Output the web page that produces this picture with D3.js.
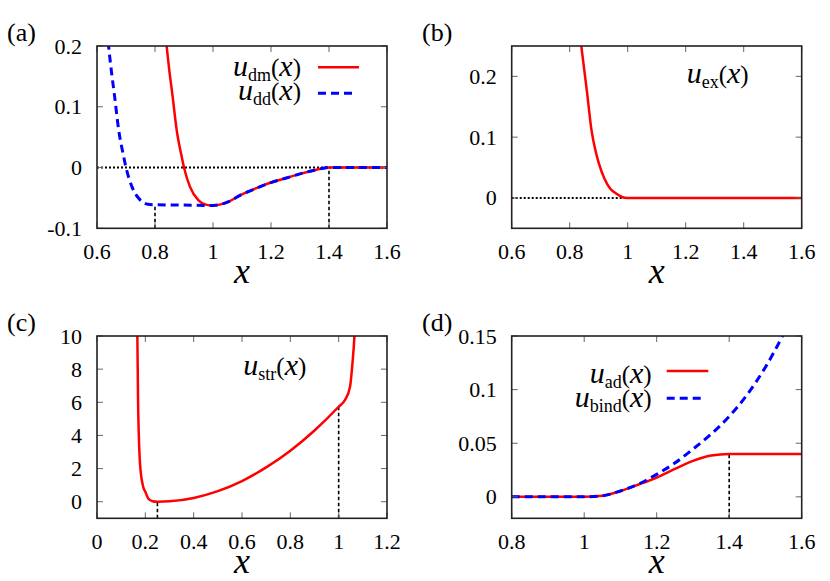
<!DOCTYPE html>
<html><head><meta charset="utf-8">
<script src="https://cdn.jsdelivr.net/npm/d3@7"></script>
<style>html,body{margin:0;padding:0;background:#fff;}</style></head>
<body><svg id="chart" width="830" height="581"></svg>
<script>
// ---------- data ----------
// panel (a)
const udmX = [0.83,0.84,0.85,0.86,0.875,0.89,0.90,0.92,0.95,0.975,1.0,1.05,1.10,1.15,1.20,1.25,1.30,1.35,1.40,1.5,1.6];
const udmY = [0.25,0.2,0.157,0.12,0.061,0.0225,0.0,-0.031,-0.054,-0.061,-0.0625,-0.057,-0.044,-0.034,-0.0247,-0.0176,-0.0104,-0.0045,0,0,0];
const uddX = [0.63,0.64,0.65,0.66,0.675,0.69,0.70,0.72,0.75,0.775,0.8,0.9,1.0,1.05,1.10,1.15,1.20,1.25,1.30,1.35,1.40,1.5,1.6];
const uddY = [0.25,0.2,0.157,0.12,0.061,0.0225,0.0,-0.031,-0.054,-0.0605,-0.0612,-0.0618,-0.0625,-0.057,-0.044,-0.034,-0.0247,-0.0176,-0.0104,-0.0045,0,0,0];
// panel (b)
const uexX = [0.83,0.84,0.86,0.875,0.89,0.90,0.92,0.94,0.96,0.98,1.0,1.6];
const uexY = [0.29,0.25,0.173,0.112,0.0756,0.0578,0.0316,0.0151,0.0073,0.0015,0,0];
// panel (c)
const ustrX = [0.165,0.167,0.1697,0.178,0.19,0.2,0.212,0.23,0.25,0.3,0.4,0.5,0.6,0.7,0.8,0.9,1.0,1.026,1.047,1.057,1.065,1.068];
const ustrY = [11,10,6.3,2.3,0.97,0.6,0.2,0.03,0,0.025,0.23,0.64,1.25,2.07,3.08,4.3,5.73,6.14,6.94,8.35,9.96,11];
// panel (d)
const uadX = [0.8,0.9,1.0,1.05,1.1,1.15,1.2,1.25,1.3,1.35,1.4,1.5,1.6];
const uadY = [0,0,0,0.001,0.0055,0.0115,0.018,0.026,0.0335,0.0385,0.04,0.04,0.04];
const ubindX = [0.8,0.9,1.0,1.05,1.1,1.15,1.2,1.25,1.3,1.35,1.4,1.45,1.5,1.55,1.6];
const ubindY = [0,0,0,0.001,0.0055,0.012,0.021,0.0315,0.0445,0.0585,0.075,0.0955,0.121,0.152,0.188];

// axis ticks
const xTicksA = [0.6,0.8,1.0,1.2,1.4,1.6], xLabA = ["0.6","0.8","1","1.2","1.4","1.6"];
const yTicksA = [-0.1,0,0.1,0.2], yLabA = ["-0.1","0","0.1","0.2"];
const yTicksB = [0,0.1,0.2], yLabB = ["0","0.1","0.2"];
const xTicksC = [0,0.2,0.4,0.6,0.8,1.0,1.2], xLabC = ["0","0.2","0.4","0.6","0.8","1","1.2"];
const yTicksC = [0,2,4,6,8,10], yLabC = ["0","2","4","6","8","10"];
const xTicksD = [0.8,1.0,1.2,1.4,1.6], xLabD = ["0.8","1","1.2","1.4","1.6"];
const yTicksD = [0,0.05,0.1,0.15], yLabD = ["0","0.05","0.1","0.15"];

// reference markers (vertical drop lines)
const dropA = [[0.8,-0.0612],[1.4,0]];
const dropC = [[0.25,0],[1.0,5.73]];
const dropD = [[1.4,0.04]];

// ---------- drawing ----------
const FONT = "'Liberation Serif'";
const svg = d3.select("#chart");
const W = 290, H = 182.3;
const TICK_FS = 22, RED = "#ff0000", BLUE = "#0000ff";

function zip(xs, ys){ return xs.map((x,i)=>[x,ys[i]]); }
function txt(sel, fs){ return sel.append("text").attr("font-size",fs).style("font-family",FONT); }

function panel(cfg){
  const g = svg.append("g").attr("transform",`translate(${cfg.left},${cfg.top})`);
  const x = d3.scaleLinear().domain(cfg.xd).range([0,W]);
  const y = d3.scaleLinear().domain(cfg.yd).range([H,0]);
  const cid = "clip"+cfg.id;
  g.append("clipPath").attr("id",cid).append("rect").attr("width",W).attr("height",H);
  const plot = g.append("g").attr("clip-path",`url(#${cid})`);

  // ticks (inward, mirrored)
  const tk = 6;
  const tg = g.append("g").attr("stroke","#666").attr("stroke-width",1);
  cfg.xt.forEach(v=>{
    tg.append("line").attr("x1",x(v)).attr("x2",x(v)).attr("y1",H).attr("y2",H-tk);
    tg.append("line").attr("x1",x(v)).attr("x2",x(v)).attr("y1",0).attr("y2",tk);
  });
  cfg.yt.forEach(v=>{
    tg.append("line").attr("x1",0).attr("x2",tk).attr("y1",y(v)).attr("y2",y(v));
    tg.append("line").attr("x1",W).attr("x2",W-tk).attr("y1",y(v)).attr("y2",y(v));
  });
  // tick labels
  cfg.xt.forEach((v,i)=>{
    txt(g,TICK_FS).attr("x",x(v)).attr("y",H+31).attr("text-anchor","middle").text(cfg.xl[i]);
  });
  cfg.yt.forEach((v,i)=>{
    txt(g,TICK_FS).attr("x",-15).attr("y",y(v)+7.5).attr("text-anchor","end").text(cfg.yl[i]);
  });
  // x title
  txt(g,36).attr("x",W/2).attr("y",H+55).attr("text-anchor","middle")
   .style("font-style","italic").text("x");
  // panel label
  txt(g,26).attr("x",7-cfg.left+cfg.ox).attr("y",41-cfg.top+cfg.oy).text(cfg.label);

  // zero dotted line
  if (cfg.zeroDotted){
    plot.append("line").attr("x1",0).attr("x2",W).attr("y1",y(0)).attr("y2",y(0))
      .attr("stroke","#000").attr("stroke-width",2).attr("stroke-dasharray","2,2");
  }
  // drop lines
  (cfg.drops||[]).forEach(d=>{
    plot.append("line").attr("x1",x(d[0])).attr("x2",x(d[0])).attr("y1",H).attr("y2",y(d[1]))
      .attr("stroke","#000").attr("stroke-width",1.6).attr("stroke-dasharray","3.5,2.5");
  });
  const line = d3.line().x(d=>x(d[0])).y(d=>y(d[1])).curve(d3.curveMonotoneX);
  cfg.series.forEach(s=>{
    plot.append("path").attr("d",line(s.data)).attr("fill","none")
      .attr("stroke",s.color).attr("stroke-width",s.w)
      .attr("stroke-dasharray",s.dash||null);
  });
  // frame
  g.append("rect").attr("width",W).attr("height",H).attr("fill","none")
   .attr("stroke","#222").attr("stroke-width",1.6);

  // legend entries
  (cfg.legend||[]).forEach(L=>{
    const t = txt(g,30).attr("x",L.x-cfg.left).attr("y",L.y-cfg.top)
      .attr("text-anchor",L.anchor);
    t.append("tspan").attr("font-size",30).style("font-style","italic").text("u");
    t.append("tspan").attr("font-size",18).attr("dy",5).text(L.sub);
    t.append("tspan").attr("font-size",25).attr("dy",-5).text("(");
    t.append("tspan").attr("font-size",30).style("font-style","italic").text("x");
    t.append("tspan").attr("font-size",25).text(")");
    if (L.color){
      g.append("line").attr("x1",L.lx1-cfg.left).attr("x2",L.lx2-cfg.left)
       .attr("y1",L.ly-cfg.top).attr("y2",L.ly-cfg.top)
       .attr("stroke",L.color).attr("stroke-width",L.w).attr("stroke-dasharray",L.dash||null);
    }
  });
}

panel({id:"a",label:"(a)",left:97,top:46,ox:0,oy:0,xd:[0.6,1.6],yd:[-0.1,0.2],
  xt:xTicksA,xl:xLabA,yt:yTicksA,yl:yLabA,zeroDotted:true,drops:dropA,
  series:[{data:zip(udmX,udmY),color:RED,w:2.5},{data:zip(uddX,uddY),color:BLUE,w:3,dash:"8,5"}],
  legend:[{sub:"dm",x:301,y:76,anchor:"end",color:RED,w:2.5,lx1:318,lx2:359,ly:67.3},
          {sub:"dd",x:301,y:99.5,anchor:"end",color:BLUE,w:3,dash:"8,5",lx1:318,lx2:356,ly:93.3}]});

panel({id:"b",label:"(b)",left:511.7,top:46,ox:415,oy:0,xd:[0.6,1.6],yd:[-0.05,0.25],
  xt:xTicksA,xl:xLabA,yt:yTicksB,yl:yLabB,zeroDotted:true,drops:[],
  series:[{data:zip(uexX,uexY),color:RED,w:2.5}],
  legend:[{sub:"ex",x:686.7,y:83,anchor:"start"}]});

panel({id:"c",label:"(c)",left:97,top:336,ox:0,oy:290,xd:[0,1.2],yd:[-1,10],
  xt:xTicksC,xl:xLabC,yt:yTicksC,yl:yLabC,zeroDotted:false,drops:dropC,
  series:[{data:zip(ustrX,ustrY),color:RED,w:2.5}],
  legend:[{sub:"str",x:243.3,y:375,anchor:"start"}]});

panel({id:"d",label:"(d)",left:511.7,top:336,ox:415,oy:290,xd:[0.8,1.6],yd:[-0.02,0.15],
  xt:xTicksD,xl:xLabD,yt:yTicksD,yl:yLabD,zeroDotted:false,drops:dropD,
  series:[{data:zip(uadX,uadY),color:RED,w:2.5},{data:zip(ubindX,ubindY),color:BLUE,w:3,dash:"8,5"}],
  legend:[{sub:"ad",x:651.7,y:383.3,anchor:"end",color:RED,w:2.5,lx1:666.7,lx2:708.3,ly:371},
          {sub:"bind",x:651.7,y:406.7,anchor:"end",color:BLUE,w:3,dash:"8,5",lx1:666.7,lx2:703.3,ly:398.3}]});
</script></body></html>
